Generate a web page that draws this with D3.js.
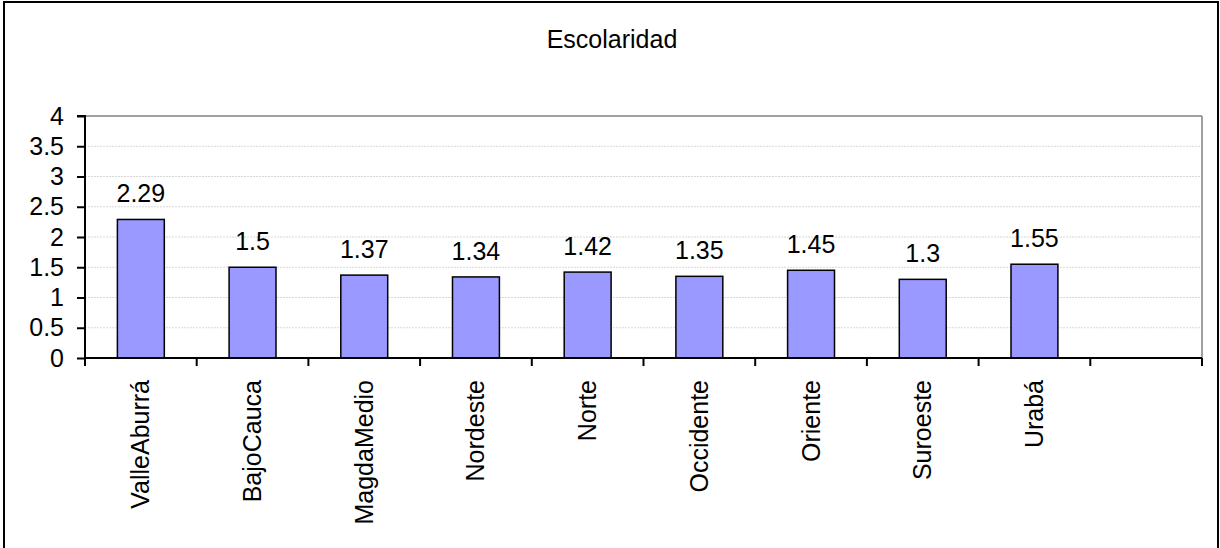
<!DOCTYPE html>
<html><head><meta charset="utf-8">
<script src="https://cdn.jsdelivr.net/npm/d3@7"></script>
<style>
html,body{margin:0;padding:0;background:#fff;}
text{font-family:"Liberation Sans",Arial,sans-serif;fill:#000;}
</style></head>
<body>
<svg id="chart" width="1220" height="548"></svg>
<script>
const title = "Escolaridad";
const categories = ["ValleAburrá","BajoCauca","MagdaMedio","Nordeste","Norte","Occidente","Oriente","Suroeste","Urabá",""];
const values = [2.29,1.5,1.37,1.34,1.42,1.35,1.45,1.3,1.55,null];
const yTicks = [0,0.5,1,1.5,2,2.5,3,3.5,4];

const svg = d3.select("#chart");
const fs = 25;
const L = 85, R = 1202, T = 116, B = 358;

svg.append("rect").attr("x",4).attr("y",2).attr("width",1214).attr("height",560)
  .attr("fill","#fff").attr("stroke","#000").attr("stroke-width",2);

const x = d3.scaleBand().domain(d3.range(categories.length)).range([L,R]).paddingInner(0).paddingOuter(0);
const y = d3.scaleLinear().domain([0,4]).range([B,T]);

// gridlines
svg.append("g").selectAll("line").data(yTicks.filter(t=>t>0&&t<4)).join("line")
  .attr("x1",L).attr("x2",R).attr("y1",d=>y(d)).attr("y2",d=>y(d))
  .attr("stroke","#d8d8d8").attr("stroke-width",1).attr("stroke-dasharray","2,1");

// plot border top/right
svg.append("line").attr("x1",L).attr("x2",R).attr("y1",y(4)).attr("y2",y(4)).attr("stroke","#808080").attr("stroke-width",1.5);
svg.append("line").attr("x1",R).attr("x2",R).attr("y1",T).attr("y2",B).attr("stroke","#808080").attr("stroke-width",1.5);

// bars
const bw = x.bandwidth()*0.42;
const data = categories.map((c,i)=>({i,c,v:values[i]})).filter(d=>d.v!=null);
svg.append("g").selectAll("rect").data(data).join("rect")
  .attr("x",d=>x(d.i)+x.bandwidth()/2-bw/2).attr("width",bw)
  .attr("y",d=>y(d.v)).attr("height",d=>y(0)-y(d.v))
  .attr("fill","#9999FF").attr("stroke","#000").attr("stroke-width",1.5);

// data labels
svg.append("g").selectAll("text").data(data).join("text")
  .attr("x",d=>x(d.i)+x.bandwidth()/2).attr("y",d=>y(d.v)-17)
  .attr("text-anchor","middle").attr("font-size",fs).text(d=>String(d.v));

// y axis
const yAxis = d3.axisLeft(y).tickValues(yTicks).tickSize(8).tickPadding(13).tickFormat(d=>String(d));
const gy = svg.append("g").attr("transform",`translate(${L},0)`).call(yAxis);
gy.select(".domain").attr("stroke","#000").attr("stroke-width",2).attr("d",`M-8,${T}H0V${B}`);
gy.selectAll(".tick line").attr("stroke","#000").attr("stroke-width",2);
gy.selectAll(".tick text").attr("font-size",fs).attr("font-family","Liberation Sans, Arial, sans-serif").attr("fill","#000");

// x axis
const xAxis = d3.axisBottom(x).tickSize(0).tickFormat(i=>categories[i]);
const gx = svg.append("g").attr("transform",`translate(0,${B})`).call(xAxis);
gx.select(".domain").attr("stroke","#000").attr("stroke-width",2).attr("d",`M${L},0H${R}`);
gx.selectAll(".tick text")
  .attr("font-size",fs).attr("font-family","Liberation Sans, Arial, sans-serif").attr("fill","#000")
  .attr("text-anchor","end").attr("transform","rotate(-90)")
  .attr("x",-22).attr("y",0).attr("dy","0.34em");
// category separators
svg.append("g").selectAll("line").data(d3.range(categories.length+1)).join("line")
  .attr("x1",i=>i<categories.length?x(i):R).attr("x2",i=>i<categories.length?x(i):R)
  .attr("y1",B).attr("y2",B+8).attr("stroke","#000").attr("stroke-width",2);

// title
svg.append("text").attr("x",612).attr("y",48).attr("text-anchor","middle").attr("font-size",fs).text(title);
</script>
</body></html>
